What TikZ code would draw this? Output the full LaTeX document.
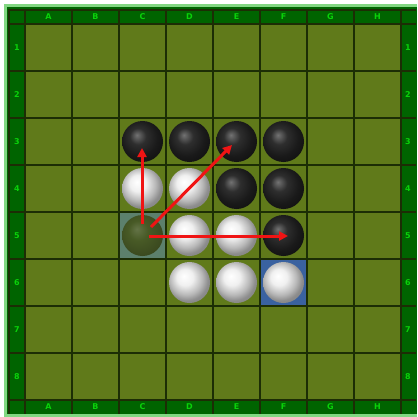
\documentclass[tikz,border=0pt]{standalone}
\usepackage{fontspec}
\setmainfont{DejaVu Sans}
\usetikzlibrary{arrows.meta}
\definecolor{lightframe}{RGB}{130,215,130}
\definecolor{frame}{RGB}{0,100,0}
\definecolor{board}{RGB}{96,122,26}
\definecolor{gridc}{RGB}{28,45,5}
\definecolor{lbl}{RGB}{10,210,10}
\definecolor{hlC}{RGB}{92,128,108}
\definecolor{hlF}{RGB}{58,98,160}
\definecolor{ghost}{RGB}{72,90,38}
\definecolor{arr}{RGB}{240,20,20}
\pgfdeclareradialshading{blackdiscsh}{\pgfpoint{-7bp}{8bp}}{color(0bp)=(black!55); color(10bp)=(black!82); color(22bp)=(black!90); color(50bp)=(black)}
\pgfdeclareradialshading{whitediscsh}{\pgfpoint{-7bp}{8bp}}{color(0bp)=(white); color(10bp)=(black!6); color(20bp)=(black!28); color(26bp)=(black!45); color(50bp)=(black!60)}
\pgfdeclareradialshading{ghostsh}{\pgfpoint{-7bp}{8bp}}{color(0bp)=(ghost!85!white); color(12bp)=(ghost); color(25bp)=(ghost!85!black); color(50bp)=(ghost!60!black)}
\tikzset{
  bdisc/.style={circle, minimum size=41pt, inner sep=0pt, shading=blackdiscsh, shade},
  wdisc/.style={circle, minimum size=41pt, inner sep=0pt, shading=whitediscsh, shade},
  gdisc/.style={circle, minimum size=41pt, inner sep=0pt, shading=ghostsh, shade},
  lab/.style={font=\fontsize{8}{8}\selectfont\bfseries, text=lbl, inner sep=0pt},
  redarrow/.style={draw=arr, line width=3pt, -{Triangle[length=9pt,width=9pt]}},
}
\begin{document}
\begin{tikzpicture}[x=1pt,y=-1pt]
\useasboundingbox (0,0) rectangle (417,417);
\fill[white] (0,0) rectangle (417,417);
\fill[lightframe] (4,4) rectangle (417,417);
\fill[frame] (7,7) rectangle (417,414);
\fill[board] (25,24) rectangle (401,400);
% highlighted cells
\fill[hlC] (119,212) rectangle (166,259);
\fill[hlF] (260,259) rectangle (307,306);
% grid
\foreach \i in {0,...,8} {
  \draw[gridc, line width=1.8pt] ({25+47*\i},9) -- ({25+47*\i},414);
  \draw[gridc, line width=1.8pt] (9,{24+47*\i}) -- (416,{24+47*\i});
}
\draw[gridc, line width=1.5pt] (9,9) -- (9,414);
\draw[gridc, line width=1.5pt] (9,10) -- (416,10);
% labels
\foreach \l [count=\c from 0] in {A,B,C,D,E,F,G,H} {
  \node[lab] (top\l) at ({48.5+47*\c},17) {\l};
  \node[lab] (bot\l) at ({48.5+47*\c},407) {\l};
}
\foreach \n [count=\r from 0] in {1,...,8} {
  \node[lab] (left\n) at (17,{47.5+47*\r}) {\n};
  \node[lab] (right\n) at (408,{47.5+47*\r}) {\n};
}
% discs
\node[bdisc] (C3) at (142.5,141.5) {};
\node[bdisc] (D3) at (189.5,141.5) {};
\node[bdisc] (E3) at (236.5,141.5) {};
\node[bdisc] (F3) at (283.5,141.5) {};
\node[wdisc] (C4) at (142.5,188.5) {};
\node[wdisc] (D4) at (189.5,188.5) {};
\node[bdisc] (E4) at (236.5,188.5) {};
\node[bdisc] (F4) at (283.5,188.5) {};
\node[gdisc] (C5) at (142.5,235.5) {};
\node[wdisc] (D5) at (189.5,235.5) {};
\node[wdisc] (E5) at (236.5,235.5) {};
\node[bdisc] (F5) at (283.5,235.5) {};
\node[wdisc] (D6) at (189.5,282.5) {};
\node[wdisc] (E6) at (236.5,282.5) {};
\node[wdisc] (F6) at (283.5,282.5) {};
% arrows
\coordinate (s1) at (142,224);
\coordinate (t1) at (142,148);
\coordinate (s2) at (151,227);
\coordinate (t2) at (232,145);
\coordinate (s3) at (149,236);
\coordinate (t3) at (288,236);
\draw[redarrow] (s1) -- (t1);
\draw[redarrow] (s2) -- (t2);
\draw[redarrow] (s3) -- (t3);
\end{tikzpicture}
\end{document}
